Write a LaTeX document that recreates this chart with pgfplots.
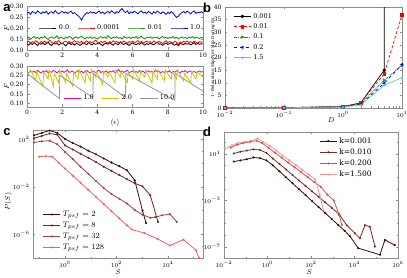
\documentclass[border=0pt]{standalone}
\usepackage{fontspec}
\setmainfont{DejaVu Serif}
\newfontfamily\lettfont{Liberation Sans}
\usepackage{pgfplots}
\usepackage{pgfplotstable}
\pgfplotsset{compat=1.18}
\definecolor{cgreen}{RGB}{0,150,0}
\definecolor{cmag}{RGB}{220,0,220}
\definecolor{cyel}{RGB}{200,200,0}
\definecolor{cgray}{RGB}{150,150,150}
\definecolor{ccyan}{RGB}{100,200,200}
\definecolor{cbgreen}{RGB}{40,140,40}
\definecolor{cr1}{RGB}{58,10,10}
\definecolor{cr2}{RGB}{110,34,34}
\definecolor{cr3}{RGB}{160,64,64}
\definecolor{cr4}{RGB}{240,96,96}
\definecolor{dk2}{RGB}{122,42,42}
\definecolor{dk3}{RGB}{208,80,80}
\definecolor{dk4}{RGB}{244,150,150}
\pgfplotsset{
  myax/.style={scale only axis, anchor=south west,
    axis line style={black!45},
    tick style={black!45, line width=0.4pt},
    major tick length=2.5pt, minor tick length=1.5pt,
    tick align=inside,
    ticklabel style={font=\fontsize{6}{6}\selectfont},
    label style={font=\fontsize{7.5}{7.5}\selectfont},
    legend style={draw=none, fill=none, font=\fontsize{6.5}{7}\selectfont},
    legend cell align=left,
  },
}
\pgfplotstableread{
x k r g b m
0.0 0.128 0.135 0.152 0.268 0.270
0.1 0.122 0.140 0.158 0.272 0.263
0.2 0.131 0.131 0.149 0.262 0.274
0.3 0.125 0.138 0.156 0.275 0.267
0.4 0.134 0.133 0.161 0.270 0.271
0.5 0.127 0.142 0.153 0.266 0.265
0.6 0.120 0.136 0.157 0.278 0.276
0.7 0.130 0.129 0.150 0.271 0.269
0.8 0.126 0.139 0.159 0.265 0.262
0.9 0.133 0.134 0.155 0.273 0.273
1.0 0.124 0.141 0.162 0.269 0.268
1.1 0.129 0.132 0.154 0.276 0.275
1.2 0.136 0.137 0.148 0.263 0.264
1.3 0.125 0.144 0.157 0.271 0.270
1.4 0.121 0.135 0.160 0.274 0.266
1.5 0.130 0.130 0.153 0.267 0.277
1.6 0.127 0.138 0.156 0.279 0.271
1.7 0.132 0.136 0.165 0.270 0.263
1.8 0.123 0.143 0.151 0.264 0.272
1.9 0.128 0.133 0.158 0.272 0.268
2.0 0.131 0.128 0.155 0.275 0.274
2.1 0.126 0.137 0.150 0.268 0.266
2.2 0.119 0.140 0.159 0.273 0.271
2.3 0.128 0.134 0.154 0.266 0.279
2.4 0.133 0.139 0.162 0.271 0.265
2.5 0.125 0.131 0.157 0.277 0.270
2.6 0.129 0.136 0.149 0.265 0.273
2.7 0.122 0.142 0.156 0.270 0.262
2.8 0.130 0.135 0.160 0.262 0.269
2.9 0.127 0.138 0.153 0.256 0.275
3.0 0.121 0.133 0.158 0.248 0.267
3.1 0.126 0.140 0.163 0.236 0.272
3.2 0.132 0.129 0.155 0.252 0.264
3.3 0.128 0.136 0.151 0.262 0.270
3.4 0.124 0.141 0.157 0.270 0.276
3.5 0.135 0.134 0.154 0.266 0.268
3.6 0.127 0.138 0.160 0.274 0.263
3.7 0.123 0.132 0.152 0.268 0.273
3.8 0.130 0.137 0.158 0.272 0.269
3.9 0.126 0.145 0.155 0.265 0.266
4.0 0.129 0.136 0.150 0.271 0.272
4.1 0.133 0.131 0.157 0.277 0.278
4.2 0.125 0.139 0.161 0.267 0.265
4.3 0.120 0.134 0.154 0.273 0.270
4.4 0.128 0.140 0.159 0.264 0.267
4.5 0.131 0.135 0.153 0.270 0.274
4.6 0.126 0.130 0.166 0.275 0.262
4.7 0.134 0.138 0.156 0.268 0.271
4.8 0.127 0.133 0.152 0.279 0.268
4.9 0.122 0.142 0.158 0.272 0.275
5.0 0.130 0.136 0.155 0.266 0.264
5.1 0.128 0.139 0.160 0.274 0.270
5.2 0.124 0.132 0.153 0.270 0.282
5.3 0.137 0.137 0.157 0.281 0.268
5.4 0.129 0.134 0.150 0.289 0.273
5.5 0.125 0.141 0.162 0.276 0.266
5.6 0.131 0.136 0.156 0.270 0.271
5.7 0.126 0.130 0.154 0.278 0.277
5.8 0.121 0.138 0.159 0.265 0.264
5.9 0.128 0.135 0.152 0.273 0.269
6.0 0.132 0.140 0.158 0.269 0.273
6.1 0.127 0.133 0.155 0.276 0.267
6.2 0.124 0.137 0.161 0.271 0.270
6.3 0.130 0.143 0.153 0.264 0.265
6.4 0.126 0.134 0.157 0.273 0.276
6.5 0.133 0.139 0.163 0.278 0.268
6.6 0.128 0.131 0.154 0.268 0.272
6.7 0.122 0.136 0.150 0.272 0.263
6.8 0.129 0.140 0.158 0.266 0.270
6.9 0.125 0.135 0.156 0.275 0.274
7.0 0.131 0.138 0.160 0.270 0.267
7.1 0.127 0.132 0.153 0.263 0.271
7.2 0.123 0.141 0.157 0.274 0.265
7.3 0.130 0.136 0.155 0.268 0.278
7.4 0.136 0.133 0.159 0.277 0.269
7.5 0.126 0.139 0.151 0.271 0.273
7.6 0.128 0.135 0.156 0.265 0.264
7.7 0.121 0.130 0.162 0.273 0.270
7.8 0.127 0.137 0.154 0.269 0.266
7.9 0.132 0.142 0.158 0.262 0.272
8.0 0.125 0.134 0.152 0.271 0.268
8.1 0.129 0.138 0.157 0.266 0.275
8.2 0.134 0.136 0.155 0.274 0.263
8.3 0.126 0.131 0.161 0.268 0.271
8.4 0.122 0.140 0.153 0.257 0.267
8.5 0.128 0.135 0.158 0.248 0.274
8.6 0.119 0.125 0.150 0.254 0.270
8.7 0.130 0.137 0.156 0.263 0.262
8.8 0.127 0.132 0.160 0.270 0.272
8.9 0.124 0.139 0.154 0.275 0.268
9.0 0.131 0.136 0.157 0.268 0.276
9.1 0.126 0.141 0.152 0.277 0.265
9.2 0.129 0.134 0.159 0.271 0.270
9.3 0.123 0.138 0.155 0.264 0.273
9.4 0.128 0.133 0.161 0.273 0.266
9.5 0.133 0.140 0.153 0.278 0.271
9.6 0.125 0.136 0.158 0.266 0.264
9.7 0.130 0.131 0.156 0.272 0.269
9.8 0.126 0.138 0.152 0.269 0.274
9.9 0.128 0.135 0.157 0.274 0.267
10.0 0.127 0.137 0.155 0.268 0.270
}\tseries
\begin{document}
\begin{tikzpicture}
\useasboundingbox (0pt,0pt) rectangle (407pt,278pt);
% ---------- panel a (top)
\begin{axis}[myax, at={(27pt,228pt)}, width=176pt, height=44pt,
  xmin=0, xmax=10, ymin=0.10, ymax=0.30,
  xtick={0,2,4,6,8,10}, ytick={0.10,0.15,0.20,0.25,0.30},
  yticklabel style={/pgf/number format/.cd,fixed,fixed zerofill,precision=2,assume math mode=true},
  xticklabel style={/pgf/number format/assume math mode=true},
  ylabel={$F$}, ylabel style={at={(axis description cs:-0.115,0.5)}, anchor=center},
  legend columns=4, legend style={at={(0.05,0.5)}, anchor=west, /tikz/every even column/.append style={column sep=6pt}},
  every axis plot/.append style={line width=0.8pt}]
\addplot[black] table[x=x,y=k] {\tseries};
\addplot[red] table[x=x,y=r] {\tseries};
\addplot[cgreen] table[x=x,y=g] {\tseries};
\addplot[blue] table[x=x,y=b] {\tseries};
\legend{0.0,0.0001,0.01,1.0}
\end{axis}
% ---------- panel a (bottom)
\begin{axis}[myax, at={(27pt,171pt)}, width=176pt, height=41pt,
  xmin=0, xmax=10, ymin=0.08, ymax=0.30,
  xtick={0,2,4,6,8,10}, ytick={0.10,0.15,0.20,0.25,0.30},
  yticklabel style={/pgf/number format/.cd,fixed,fixed zerofill,precision=2,assume math mode=true},
  xticklabel style={/pgf/number format/assume math mode=true},
  ylabel={$F$}, ylabel style={at={(axis description cs:-0.115,0.5)}, anchor=center},
  xlabel={$\langle\epsilon\rangle$}, xlabel style={at={(axis description cs:0.5,0)}, anchor=center, yshift=-16pt},
  legend columns=3, legend style={at={(0.19,0.22)}, anchor=west, /tikz/every even column/.append style={column sep=6pt}},
  every axis plot/.append style={line width=0.8pt}]
\addplot[cmag] table[x=x,y=m] {\tseries};
\addplot[cyel] coordinates {(0,0.27)(0.1,0.26)(0.2,0.28)(0.5,0.22)(0.55,0.27)(0.9,0.19)(0.95,0.27)(1.2,0.23)(1.25,0.28)(1.5,0.19)(1.55,0.26)(1.8,0.21)(1.85,0.28)(2.2,0.21)(2.25,0.26)(2.6,0.19)(2.65,0.27)(2.9,0.23)(2.95,0.28)(3.3,0.21)(3.35,0.27)(3.6,0.22)(3.65,0.28)(3.9,0.24)(3.95,0.27)(4.3,0.20)(4.35,0.27)(4.6,0.24)(4.65,0.27)(5.0,0.21)(5.05,0.28)(5.3,0.24)(5.35,0.27)(5.7,0.21)(5.75,0.27)(6.0,0.23)(6.05,0.28)(6.4,0.22)(6.45,0.27)(6.7,0.24)(6.75,0.28)(7.1,0.21)(7.15,0.27)(7.4,0.23)(7.45,0.28)(7.8,0.22)(7.85,0.28)(8.2,0.23)(8.25,0.27)(8.5,0.23)(8.55,0.28)(8.9,0.22)(8.95,0.26)(9.3,0.21)(9.35,0.27)(9.6,0.23)(9.65,0.27)(10,0.24)};
\addplot[cgray] coordinates {(0,0.26)(1.85,0.125)(1.86,0.25)(3.75,0.13)(3.76,0.26)(5.6,0.13)(5.61,0.26)(8.4,0.115)(8.41,0.26)(10,0.165)};
\legend{1.0,2.0,10.0}
\end{axis}
% ---------- panel b
\begin{axis}[myax, at={(225pt,170pt)}, width=177pt, height=101pt,
  xmode=log, xmin=0.01, xmax=10, ymin=0, ymax=40,
  ytick={0,5,...,40},
  yticklabel style={/pgf/number format/assume math mode=true},
  xlabel={$D$}, xlabel style={at={(axis description cs:0.6,0)}, anchor=center, yshift=-12pt},
  ylabel={1- Relaxation Slip/Not Slip During Ex}, ylabel style={font=\fontsize{4.2}{5}\selectfont, at={(axis description cs:-0.068,0.5)}, anchor=center},
  legend style={at={(0.03,0.98)}, anchor=north west, font=\fontsize{6.5}{7.5}\selectfont},
  every axis plot/.append style={line width=0.7pt, mark size=1.3pt}]
\addplot[black, mark=*] coordinates {(0.01,0.1)(0.1,0.15)(1,0.5)(2,2.0)(5,15)(10,5000)};
\addplot[red, densely dashed, mark=square*, mark options={solid}] coordinates {(0.01,0.05)(0.1,0.1)(1,0.6)(2,2.1)(5,13.5)(10,37)};
\addplot[cbgreen, densely dash dot, mark=triangle*, mark options={solid, rotate=-90}] coordinates {(0.01,0.05)(0.1,0.1)(1,0.5)(2,1.8)(5,11)(10,17)};
\addplot[blue, dashed, mark=triangle*, mark options={solid, rotate=90}] coordinates {(0.01,0.05)(0.1,0.1)(1,0.5)(2,1.5)(5,9.8)(10,17.2)};
\addplot[ccyan, mark=star] coordinates {(0.01,0.05)(0.1,0.1)(1,0.4)(2,1.2)(5,9)(10,12)};
\legend{0.001,0.01,0.1,0.2,1.5}
\end{axis}
% ---------- panel c
\begin{axis}[myax, at={(33pt,20pt)}, width=170pt, height=128pt,
  xmode=log, ymode=log, xmin=0.057, xmax=2.3e5, ymin=1e-8, ymax=6.3e2,
  xtick={1,100,10000}, ytick={1e-6,1e-2,1e2},
  minor xtick={0.1,10,1000,100000}, minor ytick={1e-7,1e-5,1e-4,1e-3,1e-1,1,10},
  xlabel={$S$}, xlabel style={at={(axis description cs:0.5,0)}, anchor=center, yshift=-14pt},
  ylabel={$P(S)$}, ylabel style={at={(axis description cs:-0.147,0.44)}, anchor=center},
  legend style={at={(0.04,0.40)}, anchor=north west, font=\fontsize{8}{9}\selectfont, /tikz/every row/.append style={row sep=2pt}},
  every axis plot/.append style={line width=0.8pt, mark=*, mark size=0.6pt}]
\addplot[cr1] coordinates {(0.0625,2.24e2)(0.125,3.55e2)(0.25,5.62e2)(0.5,3.55e2)(1,1.12e2)(2,5.01e1)(4,2.51e1)(8,1.12e1)(16,5.62)(32,2.51)(64,1.12)(128,5.62e-1)(256,2.51e-1)(512,3.55e-2)(1024,1.0e-4)(1413,8.91e-6)};
\addplot[cr2] coordinates {(0.0625,1.26e2)(0.125,2.0e2)(0.25,3.16e2)(0.5,2.51e2)(1,3.16e1)(2,1.41e1)(4,6.31)(8,2.82)(16,1.26)(32,5.01e-1)(64,2.24e-1)(128,1.0e-1)(256,4.47e-2)(512,2.0e-2)(1024,1.12e-2)(2048,2.0e-3)(4096,1.12e-5)};
\addplot[cr3] coordinates {(0.0625,5.62e1)(0.125,7.08e1)(0.25,7.94e1)(0.5,3.98e1)(1,8.91)(2,2.24)(4,5.01e-1)(8,1.26e-1)(16,3.16e-2)(32,7.94e-3)(64,2.51e-3)(128,1.0e-3)(256,3.98e-4)(512,1.12e-4)(1024,4.47e-5)(2048,2.51e-5)(3200,2.82e-5)(6000,3.98e-5)(12000,5.01e-5)(22000,1.12e-5)};
\addplot[cr4] coordinates {(0.1,3.55)(0.18,3.98)(0.32,3.55)(0.56,1.12)(1,3.55e-1)(2,8.91e-2)(4,2.24e-2)(8,5.62e-3)(16,1.41e-3)(32,3.55e-4)(64,8.91e-5)(128,2.24e-5)(256,5.62e-6)(400,2.51e-6)(1230,1.26e-6)(4000,3.98e-7)(12000,1.12e-7)(40000,3.55e-7)(123000,4.47e-8)(160000,1.0e-8)};
\legend{$T_{psf}=2$,$T_{psf}=8$,$T_{psf}=32$,$T_{psf}=128$}
\end{axis}
% ---------- panel d
\begin{axis}[myax, at={(224pt,20pt)}, width=174pt, height=126pt,
  xmode=log, ymode=log, xmin=0.01, xmax=1e6, ymin=1.1e-8, ymax=7.9e2,
  xtick={1e-2,1,1e2,1e4,1e6}, ytick={1e-7,1e-3,10},
  minor xtick={0.1,10,1000,100000}, minor ytick={1e-6,1e-5,1e-4,1e-2,1e-1,1,100},
  xlabel={$S$}, xlabel style={at={(axis description cs:0.49,0)}, anchor=center, yshift=-14pt},
  legend style={at={(0.53,0.99)}, anchor=north west, font=\fontsize{7.5}{8}\selectfont},
  every axis plot/.append style={line width=0.8pt, mark=*, mark size=0.6pt}]
\addplot[cr1] coordinates {(0.0282,2.24)(0.0562,2.82)(0.112,3.55)(0.224,5.01)(0.447,4.47)(0.891,2.82)(1.78,1.047)(3.55,3.24e-1)(7.08,1.0e-1)(14.1,3.02e-2)(28.2,9.33e-3)(56.2,2.88e-3)(112,8.71e-4)(224,2.69e-4)(447,8.32e-5)(891,2.57e-5)(1778,7.76e-6)(3548,2.40e-6)(6310,7.94e-7)(14790,7.76e-8)(147900,2.09e-8)(251200,3.98e-7)(707900,1.41e-7)};
\addplot[dk2] coordinates {(0.0282,11.2)(0.0562,15.8)(0.112,20.0)(0.224,25.1)(0.447,22.4)(0.891,12.6)(1.78,4.07)(3.55,1.38)(7.08,4.68e-1)(14.1,1.55e-1)(28.2,5.25e-2)(56.2,1.78e-2)(112,6.03e-3)(224,2.04e-3)(447,6.92e-4)(891,2.34e-4)(1995,6.31e-5)(4365,7.41e-6)(10470,1.48e-6)(17780,5.50e-7)(30200,7.41e-6)(51290,5.37e-6)(87100,1.07e-7)};
\addplot[dk3] coordinates {(0.02,35.5)(0.0398,63.1)(0.0794,89.1)(0.158,112)(0.316,141)(0.562,89.1)(1.12,33.9)(2.24,12.9)(4.47,4.90)(8.91,1.86)(17.8,7.08e-1)(35.5,2.69e-1)(70.8,1.02e-1)(141,3.89e-2)(282,1.48e-2)(562,3.16e-3)(1122,1.0e-3)(1995,5.25e-5)(2630,7.41e-6)};
\addplot[dk4] coordinates {(0.0112,28.2)(0.0224,56.2)(0.0447,89.1)(0.0891,112)(0.178,141)(0.355,224)(0.631,112)(1.26,51.3)(2.51,20.0)(5.01,7.59)(10,2.95)(19.95,1.15)(39.8,4.37e-1)(79.4,1.70e-1)(158,6.46e-2)(251,3.16e-3)(372,1.41e-4)};
\legend{k=0.001,k=0.010,k=0.200,k=1.500}
\end{axis}
% ---------- panel letters
\node[font=\lettfont\bfseries\fontsize{13}{13}\selectfont] at (7pt,270pt) {a};
\node[font=\lettfont\bfseries\fontsize{13}{13}\selectfont] at (207pt,270pt) {b};
\node[font=\lettfont\bfseries\fontsize{13}{13}\selectfont] at (7pt,146pt) {c};
\node[font=\lettfont\bfseries\fontsize{13}{13}\selectfont] at (207pt,146pt) {d};
\end{tikzpicture}
\end{document}
